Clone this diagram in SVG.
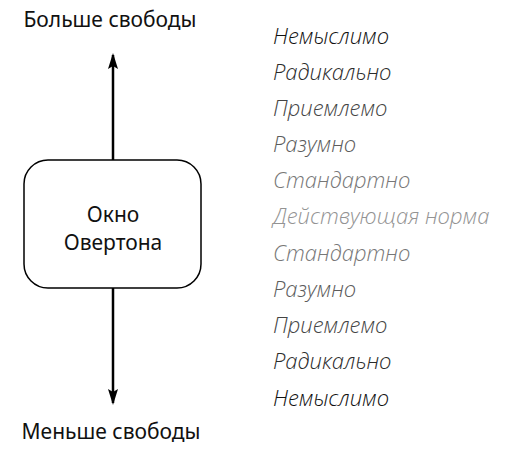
<svg xmlns="http://www.w3.org/2000/svg" width="508" height="467" viewBox="0 0 508 467">
<style>
.t{font-family:"Noto Sans","Open Sans",sans-serif;font-size:21px;fill:#111}
.i{font-family:"Open Sans","Noto Sans",sans-serif;font-size:22px;font-style:italic;font-weight:300}
</style>
<defs>
<marker id="ah" markerWidth="16" markerHeight="10" refX="14" refY="5" orient="auto" markerUnits="userSpaceOnUse" viewBox="0 0 16 10">
<path d="M0,0 L16,5 L0,10 L3,5 z" fill="#000"/>
</marker>
</defs>
<rect width="508" height="467" fill="#fff"/>
<g id="connectors" stroke="#000" stroke-width="2.5" fill="none">
<line x1="113" y1="160" x2="113" y2="55" marker-end="url(#ah)"/>
<line x1="113" y1="288" x2="113" y2="403" marker-end="url(#ah)"/>
</g>
<g id="box">
<rect x="24" y="160" width="177" height="128" rx="24" fill="#fff" stroke="#000" stroke-width="1.5"/>
<text class="t" x="113" y="222" text-anchor="middle">Окно</text>
<text class="t" x="113" y="250" text-anchor="middle">Овертона</text>
</g>
<g id="top-label"><text class="t" x="110" y="27" text-anchor="middle">Больше свободы</text></g>
<g id="bottom-label"><text class="t" x="111" y="439" text-anchor="middle">Меньше свободы</text></g>
<g id="scale">
<text class="i" x="273" y="44" fill="#111">Немыслимо</text>
<text class="i" x="273" y="80" fill="#2b2b2b">Радикально</text>
<text class="i" x="273" y="116" fill="#444">Приемлемо</text>
<text class="i" x="273" y="152" fill="#5c5c5c">Разумно</text>
<text class="i" x="273" y="188" fill="#777">Стандартно</text>
<text class="i" x="273" y="224" fill="#939393">Действующая норма</text>
<text class="i" x="273" y="261" fill="#777">Стандартно</text>
<text class="i" x="273" y="297" fill="#5c5c5c">Разумно</text>
<text class="i" x="273" y="333" fill="#444">Приемлемо</text>
<text class="i" x="273" y="369" fill="#2b2b2b">Радикально</text>
<text class="i" x="273" y="406" fill="#111">Немыслимо</text>
</g>
</svg>
